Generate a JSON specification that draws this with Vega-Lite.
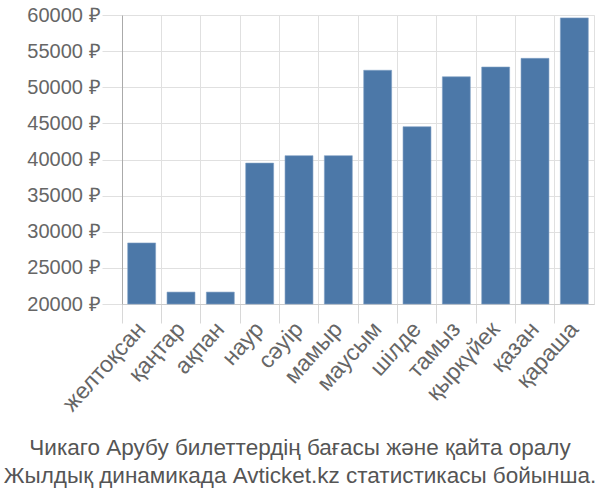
{
  "$schema": "https://vega.github.io/schema/vega-lite/v6.json",
  "width": 472,
  "height": 289,
  "autosize": {"type": "none"},
  "padding": {"left": 122, "top": 15, "right": 6, "bottom": 196},
  "background": "white",
  "data": {
    "values": [
      {"month": "желтоқсан", "price": 28450},
      {"month": "қаңтар", "price": 21650},
      {"month": "ақпан", "price": 21650},
      {"month": "наур", "price": 39500},
      {"month": "сәуір", "price": 40530},
      {"month": "мамыр", "price": 40530},
      {"month": "маусым", "price": 52350},
      {"month": "шілде", "price": 44540},
      {"month": "тамыз", "price": 51450},
      {"month": "қыркүйек", "price": 52800},
      {"month": "қазан", "price": 54000},
      {"month": "қараша", "price": 59600}
    ]
  },
  "title": {
    "text": ["Чикаго Арубу билеттердің бағасы және қайта оралу", "Жылдық динамикада Avticket.kz статистикасы бойынша."],
    "orient": "bottom",
    "anchor": "middle",
    "frame": "group",
    "dx": -58,
    "fontSize": 22.5,
    "font": "Liberation Sans",
    "fontWeight": "normal",
    "color": "#555555",
    "lineHeight": 28,
    "offset": 22
  },
  "mark": {"type": "bar", "width": {"band": 0.71}, "color": "#4c78a8", "stroke": "#7f9fc4", "strokeWidth": 0.6},
  "encoding": {
    "x": {
      "field": "month",
      "type": "nominal",
      "sort": null,
      "scale": {"paddingInner": 0, "paddingOuter": 0},
      "axis": {
        "title": null,
        "labelAngle": -48,
        "labelFontSize": 23,
        "labelFont": "Liberation Sans",
        "labelColor": "#666666",
        "bandPosition": 0,
        "grid": true,
        "gridColor": "#e0e0e0",
        "tickColor": "#d8d8d8",
        "tickSize": 19,
        "domainColor": "#cccccc",
        "labelPadding": 2
      }
    },
    "y": {
      "field": "price",
      "type": "quantitative",
      "scale": {"domain": [20000, 60000], "zero": false, "nice": false},
      "axis": {
        "title": null,
        "values": [20000, 25000, 30000, 35000, 40000, 45000, 50000, 55000, 60000],
        "labelExpr": "datum.value + ' ₽'",
        "labelFontSize": 20,
        "labelFont": "Liberation Sans",
        "labelColor": "#666666",
        "gridColor": "#e0e0e0",
        "tickColor": "#e0e0e0",
        "tickSize": 20,
        "labelPadding": 2,
        "domainColor": "#aaaaaa"
      }
    },
    "y2": {"datum": 20000}
  },
  "config": {"view": {"stroke": "#e0e0e0"}}
}
